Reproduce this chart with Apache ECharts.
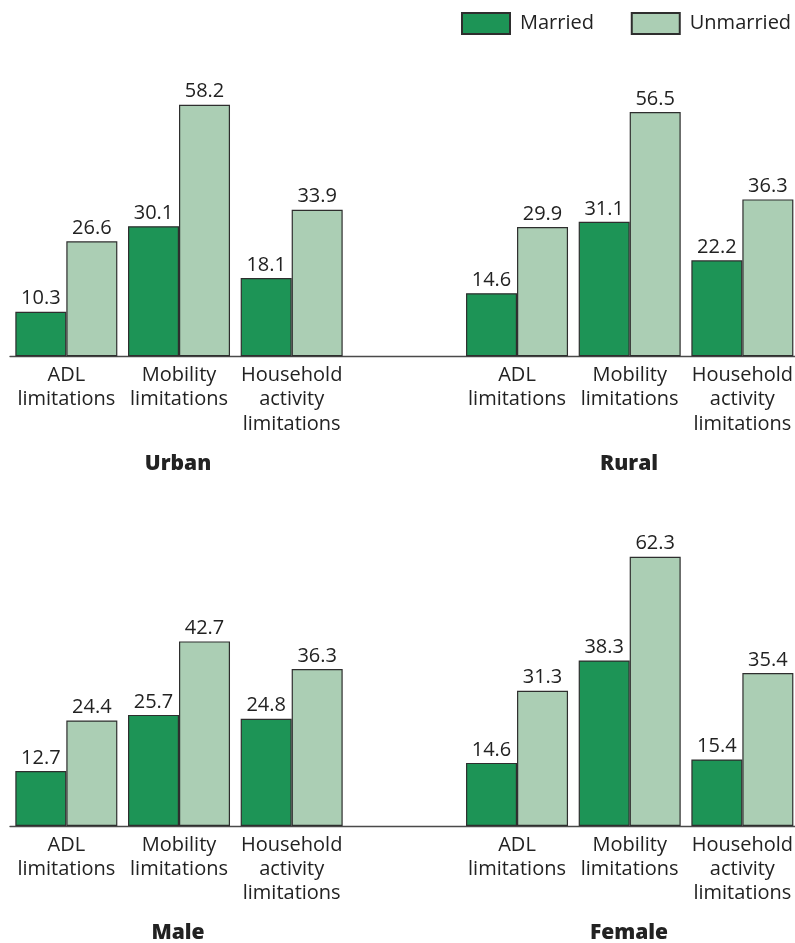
<!DOCTYPE html>
<html>
<head>
<meta charset="utf-8">
<script src="https://cdn.jsdelivr.net/npm/echarts@6/dist/echarts.min.js"></script>
<style>html,body{margin:0;padding:0;background:#fff;}#c{width:795px;height:943px;}</style>
</head>
<body>
<div id="c"></div>
<script>
// ---- data ----
const categories = ['ADL\nlimitations', 'Mobility\nlimitations', 'Household\nactivity\nlimitations'];
const seriesNames = ['Married', 'Unmarried'];
const panelTitles = ['Urban', 'Rural', 'Male', 'Female'];
const urbanMarried = [10.3, 30.1, 18.1];
const urbanUnmarried = [26.6, 58.2, 33.9];
const ruralMarried = [14.6, 31.1, 22.2];
const ruralUnmarried = [29.9, 56.5, 36.3];
const maleMarried = [12.7, 25.7, 24.8];
const maleUnmarried = [24.4, 42.7, 36.3];
const femaleMarried = [14.6, 38.3, 15.4];
const femaleUnmarried = [31.3, 62.3, 35.4];

// ---- build row axes: left panel, spacer, right panel ----
const rowCats = categories.concat(['']).concat(categories);
function row(a, b) { return a.concat(['-']).concat(b); }

const C_MAR = '#1d9456';
const C_UNM = '#abceb4';
const BORDER = '#2e2e2e';
const FONT = 'Open Sans';
const TXT = '#222';

const grids = [
  { left: 10, width: 788.7, top: 53.7, height: 302.6, outerBoundsMode: 'none', containLabel: false },
  { left: 10, width: 788.7, top: 523.4, height: 302.6, outerBoundsMode: 'none', containLabel: false }
];

function xAxis(i) {
  return {
    type: 'category', gridIndex: i, data: rowCats,
    axisTick: { show: false },
    axisLine: { lineStyle: { color: '#4a4a4a', width: 1.3 } },
    axisLabel: { interval: 0, margin: 7, color: TXT, fontFamily: FONT, fontSize: 20, lineHeight: 24.3 }
  };
}
function yAxis(i) {
  return { type: 'value', gridIndex: i, min: 0, max: 70, show: false, splitLine: { show: false } };
}
const label = {
  show: true, position: 'top', distance: 3, color: TXT, fontFamily: FONT, fontSize: 20,
  formatter: p => Number(p.value).toFixed(1)
};
function bar(name, data, i, color) {
  return {
    name: name, type: 'bar', xAxisIndex: i, yAxisIndex: i, data: data,
    barWidth: 51, barGap: '0%',
    itemStyle: { color: color, borderColor: BORDER, borderWidth: 1.2 },
    label: label
  };
}

const titleStyle = { fontFamily: FONT, fontSize: 21, fontWeight: 800, color: TXT, lineHeight: 21 };
const option = {
  animation: false,
  backgroundColor: '#fff',
  legend: {
    data: seriesNames, left: 461, top: 12, padding: 0, icon: 'rect',
    itemWidth: 48, itemHeight: 21, itemGap: 36.8,
    textStyle: { fontFamily: FONT, fontSize: 20, color: TXT, padding: [0, 0, 0, 5] }
  },
  title: [
    { text: panelTitles[0], left: 178, top: 454, textAlign: 'center', padding: 0, textStyle: titleStyle },
    { text: panelTitles[1], left: 629, top: 454, textAlign: 'center', padding: 0, textStyle: titleStyle },
    { text: panelTitles[2], left: 178, top: 922.5, textAlign: 'center', padding: 0, textStyle: titleStyle },
    { text: panelTitles[3], left: 629, top: 922.5, textAlign: 'center', padding: 0, textStyle: titleStyle }
  ],
  grid: grids,
  xAxis: [xAxis(0), xAxis(1)],
  yAxis: [yAxis(0), yAxis(1)],
  series: [
    bar(seriesNames[0], row(urbanMarried, ruralMarried), 0, C_MAR),
    bar(seriesNames[1], row(urbanUnmarried, ruralUnmarried), 0, C_UNM),
    bar(seriesNames[0], row(maleMarried, femaleMarried), 1, C_MAR),
    bar(seriesNames[1], row(maleUnmarried, femaleUnmarried), 1, C_UNM)
  ]
};
echarts.init(document.getElementById('c')).setOption(option);
</script>
</body>
</html>
